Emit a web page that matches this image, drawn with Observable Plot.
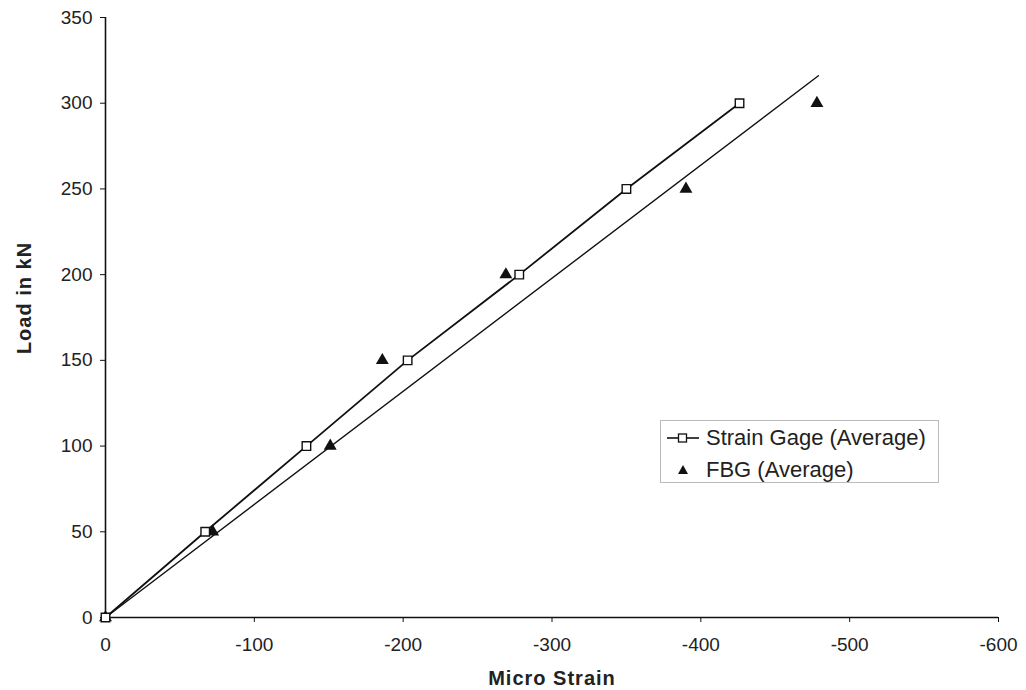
<!DOCTYPE html>
<html>
<head>
<meta charset="utf-8">
<script src="https://cdn.jsdelivr.net/npm/d3@7"></script>
<script src="https://cdn.jsdelivr.net/npm/@observablehq/plot@0.6"></script>
<style>
  html, body { margin: 0; padding: 0; background: #fff; }
  #wrap { position: relative; width: 1026px; height: 690px; font-family: "Liberation Sans", Arial, sans-serif; color: #222; }
  .lbl { position: absolute; font-weight: bold; font-size: 20px; letter-spacing: 1px; white-space: nowrap; color: #222; }
  #ylab { left: 24px; top: 298px; transform: translate(-50%, -50%) rotate(-90deg); }
  #xlab { left: 552px; top: 678px; transform: translate(-50%, -50%); }
  #legend { position: absolute; left: 660px; top: 420px; width: 279px; height: 63px; border: 1px solid #bbb; box-sizing: border-box; background: #fff; font-size: 22px; }
  .row { position: absolute; left: 0; height: 26px; line-height: 26px; }
  .row span { position: absolute; left: 45px; white-space: nowrap; }
</style>
</head>
<body>
<div id="wrap">
  <div id="chart"></div>
  <div class="lbl" id="ylab">Load in kN</div>
  <div class="lbl" id="xlab">Micro Strain</div>
  <div id="legend">
    <div class="row" style="top:4px;">
      <svg width="40" height="26" style="position:absolute;left:5px;top:0"><line x1="1" x2="33" y1="13" y2="13" stroke="#111" stroke-width="1.6"/><rect x="12.5" y="9" width="8" height="8" fill="#fff" stroke="#111" stroke-width="1.3"/></svg>
      <span>Strain Gage (Average)</span>
    </div>
    <div class="row" style="top:36px;">
      <svg width="40" height="26" style="position:absolute;left:5px;top:0"><path d="M17,8 L22,17 L12,17 Z" fill="#111"/></svg>
      <span>FBG (Average)</span>
    </div>
  </div>
</div>
<script>
const loads = [0, 50, 100, 150, 200, 250, 300];
const gageStrain = [0, -67, -135, -203, -278, -350, -426];
const fbgStrain = [0, -72, -151, -186, -269, -390, -478];
const fbgTrendStrain = [0, -479];
const fbgTrendLoad = [0, 316];
const xTicks = [0, -100, -200, -300, -400, -500, -600];
const yTicks = [0, 50, 100, 150, 200, 250, 300, 350];

const gage = loads.map((l, i) => ({x: gageStrain[i], y: l}));
const fbg = loads.map((l, i) => ({x: fbgStrain[i], y: l}));
const trend = fbgTrendStrain.map((s, i) => ({x: s, y: fbgTrendLoad[i]}));

const chart = Plot.plot({
  width: 1026,
  height: 690,
  marginLeft: 105,
  marginRight: 28,
  marginTop: 17,
  marginBottom: 73,
  style: {fontFamily: '"Liberation Sans", Arial, sans-serif', fontSize: "19px", color: "#222", background: "#fff"},
  x: {domain: [0, -600], ticks: xTicks, tickFormat: d => String(d), label: null},
  y: {domain: [0, 350], ticks: yTicks, label: null},
  marks: [
    Plot.axisX({ticks: xTicks, tickSize: 5, tickPadding: 15, tickFormat: d => String(d), fontSize: 19, stroke: "#111", label: null}),
    Plot.axisY({ticks: yTicks, tickSize: 5, tickPadding: 8, fontSize: 19, stroke: "#111", label: null}),
    Plot.ruleX([0], {stroke: "#111", strokeWidth: 1.6}),
    Plot.ruleY([0], {stroke: "#111", strokeWidth: 1.6}),
    Plot.line(trend, {x: "x", y: "y", stroke: "#111", strokeWidth: 1.4}),
    Plot.line(gage, {x: "x", y: "y", stroke: "#111", strokeWidth: 1.8}),
    Plot.dot(fbg, {x: "x", y: "y", symbol: "triangle", r: 4.8, fill: "#111", stroke: "none"}),
    Plot.dot(gage, {x: "x", y: "y", symbol: "square", r: 4.8, fill: "#fff", stroke: "#111", strokeWidth: 1.4})
  ]
});
document.getElementById("chart").appendChild(chart);
</script>
</body>
</html>
